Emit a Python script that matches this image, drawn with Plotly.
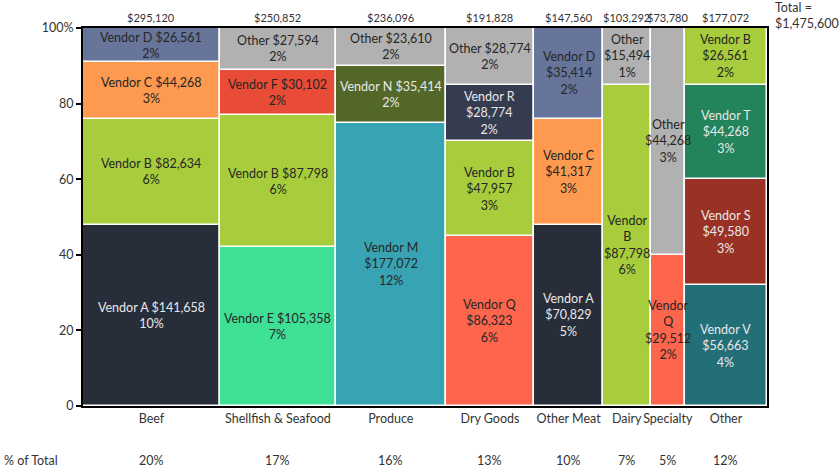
import plotly.graph_objects as go

categories = ["Beef", "Shellfish & Seafood", "Produce", "Dry Goods",
              "Other Meat", "Dairy", "Specialty", "Other"]
column_totals = [295120, 250852, 236096, 191828, 147560, 103292, 73780, 177072]
grand_total = 1475600
# segments listed bottom -> top for each category
segment_vendors = [
    ["Vendor A", "Vendor B", "Vendor C", "Vendor D"],
    ["Vendor E", "Vendor B", "Vendor F", "Other"],
    ["Vendor M", "Vendor N", "Other"],
    ["Vendor Q", "Vendor B", "Vendor R", "Other"],
    ["Vendor A", "Vendor C", "Vendor D"],
    ["Vendor B", "Other"],
    ["Vendor Q", "Other"],
    ["Vendor V", "Vendor S", "Vendor T", "Vendor B"],
]
segment_values = [
    [141658, 82634, 44268, 26561],
    [105358, 87798, 30102, 27594],
    [177072, 35414, 23610],
    [86323, 47957, 28774, 28774],
    [70829, 41317, 35414],
    [87798, 15494],
    [29512, 44268],
    [56663, 49580, 44268, 26561],
]

vendor_colors = {
    "Vendor A": "#282d3a", "Vendor B": "#a8cd3c", "Vendor C": "#fd9a4f",
    "Vendor D": "#67759b", "Other": "#b1b1b1", "Vendor E": "#3ee096",
    "Vendor F": "#e84b36", "Vendor M": "#38a4b3", "Vendor N": "#536828",
    "Vendor Q": "#fe654d", "Vendor R": "#363c50", "Vendor V": "#236f78",
    "Vendor S": "#9a3125", "Vendor T": "#23835a",
}
light_text = {"Vendor A", "Vendor N", "Vendor R", "Vendor T", "Vendor S", "Vendor V"}
DARK = "#262626"
LIGHT = "#e8e8e8"
AXIS_TXT = "#333333"
FONT = "Lato"
FS = 12.5

PLOT_W = 840 - 83 - 73
CHAR_PX = 6.2

fig = go.Figure()
annotations = []
left = 0.0
centers = []
for ci, cat in enumerate(categories):
    tot = column_totals[ci]
    w = tot / grand_total * 100
    c = left + w / 2
    centers.append(c)
    col_px = w / 100 * PLOT_W
    base = 0.0
    seg_sum = sum(segment_values[ci])
    for vn, val in zip(segment_vendors[ci], segment_values[ci]):
        h = val / seg_sum * 100
        fig.add_trace(go.Bar(
            x=[c], y=[h], base=[base], width=[w],
            marker=dict(color=vendor_colors[vn], line=dict(color="white", width=1.5)),
            showlegend=False, hoverinfo="skip"))
        money = f"${val:,}"
        pct = f"{round(val / grand_total * 100)}%"
        head = f"{vn} {money}"
        if len(head) * CHAR_PX < col_px - 6:
            txt = f"{head}<br>{pct}"
        elif len(vn) * CHAR_PX < col_px - 2:
            txt = f"{vn}<br>{money}<br>{pct}"
        else:
            txt = "<br>".join(vn.split(" ")) + f"<br>{money}<br>{pct}"
        annotations.append(dict(
            x=c, y=base + h / 2, xref="x", yref="y", text=txt, showarrow=False,
            font=dict(family=FONT, size=FS, color=LIGHT if vn in light_text else DARK),
            align="center"))
        base += h
    annotations.append(dict(
        x=c, y=1, xref="x", yref="paper", yanchor="bottom", yshift=2,
        text=f"${tot:,}", showarrow=False,
        font=dict(family=FONT, size=11, color=AXIS_TXT)))
    annotations.append(dict(
        x=c, y=0, xref="x", yref="paper", yanchor="middle", yshift=-54,
        text=f"{round(tot / grand_total * 100)}%", showarrow=False,
        font=dict(family=FONT, size=FS, color=AXIS_TXT)))
    left += w

annotations.append(dict(
    x=0, y=0, xref="paper", yref="paper", xanchor="left", yanchor="middle",
    xshift=-81, yshift=-54, text="% of Total", showarrow=False,
    font=dict(family=FONT, size=FS, color=AXIS_TXT)))
annotations.append(dict(
    x=1, y=1, xref="paper", yref="paper", xanchor="left", yanchor="middle",
    xshift=6, yshift=13, text=f"Total =<br>${grand_total:,}", showarrow=False,
    align="left", font=dict(family=FONT, size=FS, color=AXIS_TXT)))

fig.update_layout(
    width=840, height=470,
    margin=dict(l=83, r=73, t=28, b=64),
    paper_bgcolor="white", plot_bgcolor="white",
    barmode="overlay", bargap=0,
    annotations=annotations,
    font=dict(family=FONT, size=FS, color=AXIS_TXT),
)
fig.update_xaxes(
    range=[0, 100], tickvals=centers, ticktext=categories, ticks="",
    tickangle=0, automargin=False,
    showline=True, linecolor="black", linewidth=2, mirror=True,
    showgrid=False, zeroline=False, fixedrange=True,
    tickfont=dict(family=FONT, size=FS, color=AXIS_TXT))
fig.update_yaxes(
    range=[0, 100], tickvals=[0, 20, 40, 60, 80, 100],
    ticktext=["0", "20", "40", "60", "80", "100%"],
    ticks="outside", ticklen=5, tickwidth=2, tickcolor="black",
    automargin=False,
    showline=True, linecolor="black", linewidth=2, mirror=True,
    showgrid=False, zeroline=False, fixedrange=True,
    tickfont=dict(family=FONT, size=FS, color=AXIS_TXT))

fig.write_html("out.html")
